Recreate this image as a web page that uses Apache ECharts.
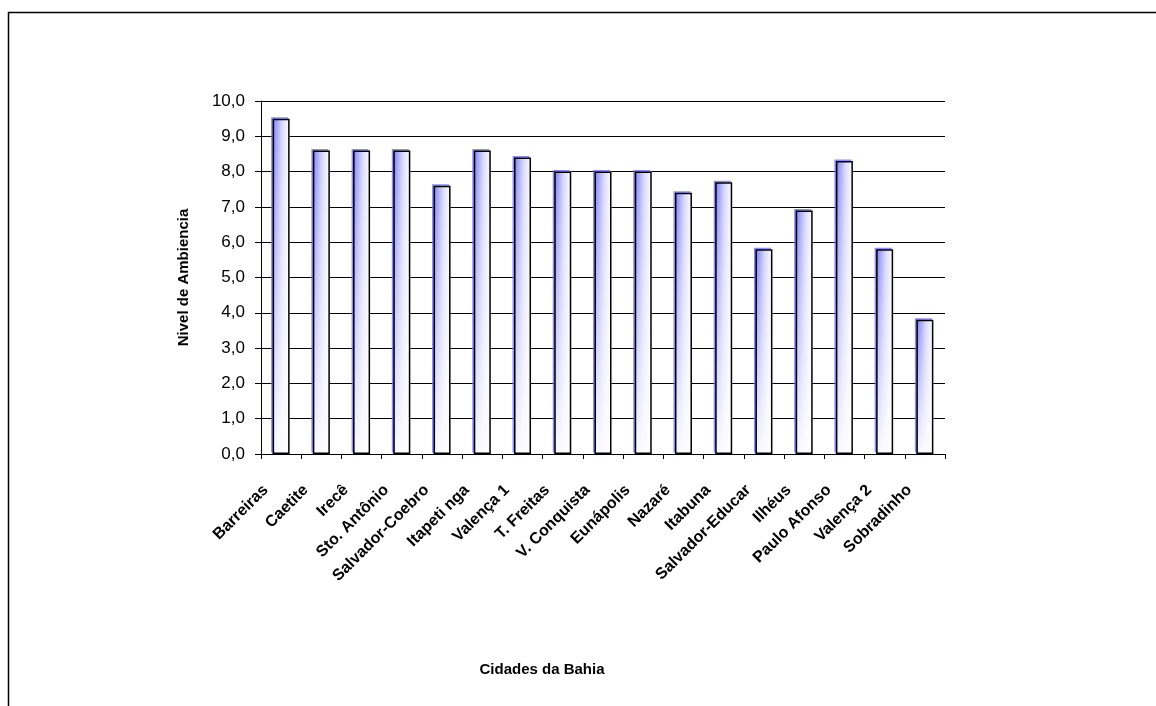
<!DOCTYPE html>
<html>
<head>
<meta charset="utf-8">
<script src="https://cdn.jsdelivr.net/npm/echarts@6/dist/echarts.min.js"></script>
<style>
  html, body { margin: 0; padding: 0; background: #fff; }
  #chart { width: 1156px; height: 706px; }
</style>
</head>
<body>
<div id="chart"></div>
<script>
// Cities and their ambience score
const cities = ['Barreiras', 'Caetite', 'Irecê', 'Sto. Antônio', 'Salvador-Coebro', 'Itapeti nga',
  'Valença 1', 'T. Freitas', 'V. Conquista', 'Eunápolis', 'Nazaré', 'Itabuna',
  'Salvador-Educar', 'Ilhéus', 'Paulo Afonso', 'Valença 2', 'Sobradinho'];
const scores = [9.5, 8.6, 8.6, 8.6, 7.6, 8.6, 8.4, 8.0, 8.0, 8.0, 7.4, 7.7, 5.8, 6.9, 8.3, 5.8, 3.8];
const yTicks = { min: 0, max: 10, interval: 1 };

const font = '"Liberation Sans", Arial, sans-serif';
const chart = echarts.init(document.getElementById('chart'), null, { renderer: 'canvas' });

chart.setOption({
  animation: false,
  backgroundColor: '#ffffff',
  grid: { left: 261, right: 211, top: 101, bottom: 252, containLabel: false },
  graphic: [
    {
      type: 'rect',
      shape: { x: 8.5, y: 12.5, width: 1300, height: 900 },
      style: { fill: 'none', stroke: '#000', lineWidth: 1.5 },
      silent: true
    },
    {
      type: 'text',
      x: 542, y: 662,
      style: {
        text: 'Cidades da Bahia', font: 'bold 15px ' + font,
        fill: '#000', textAlign: 'center', textVerticalAlign: 'top'
      }
    }
  ],
  xAxis: {
    type: 'category',
    data: cities,
    axisLine: { lineStyle: { color: '#000', width: 1 } },
    axisTick: { show: true, alignWithLabel: false, length: 5, lineStyle: { color: '#000' } },
    axisLabel: {
      rotate: 45, interval: 0, margin: 18,
      padding: [0, 22, 0, 0],
      fontFamily: font, fontSize: 16, fontWeight: 'bold', color: '#000'
    },
    splitLine: { show: false }
  },
  yAxis: {
    type: 'value',
    min: yTicks.min, max: yTicks.max, interval: yTicks.interval,
    name: 'Nivel de Ambiencia',
    nameLocation: 'middle', nameGap: 70, nameRotate: 90,
    nameTextStyle: { fontFamily: font, fontSize: 15, fontWeight: 'bold', color: '#000' },
    axisLine: { show: true, lineStyle: { color: '#000', width: 1 } },
    axisTick: { show: true, length: 6, lineStyle: { color: '#000' } },
    axisLabel: {
      margin: 16, fontFamily: font, fontSize: 17, color: '#000',
      formatter: v => v.toFixed(1).replace('.', ',')
    },
    splitLine: { show: true, lineStyle: { color: '#000', width: 1 } }
  },
  series: [
    {
      // blue-to-white shading across each bar, with a thin blue fringe up-left
      type: 'bar',
      data: scores,
      barWidth: 17,
      z: 2,
      itemStyle: {
        color: new echarts.graphic.LinearGradient(0, 0, 1, 0, [
          { offset: 0, color: '#7c7cf6' },
          { offset: 0.55, color: '#d8d8fb' },
          { offset: 1, color: '#ffffff' }
        ]),
        shadowColor: 'rgba(110,110,250,0.8)',
        shadowBlur: 0,
        shadowOffsetX: -1.5,
        shadowOffsetY: -1.5
      }
    },
    {
      // whitening toward the base, with the black outline
      type: 'bar',
      data: scores,
      barWidth: 17,
      barGap: '-100%',
      z: 3,
      itemStyle: {
        color: new echarts.graphic.LinearGradient(0, 0, 0, 1, [
          { offset: 0, color: 'rgba(255,255,255,0)' },
          { offset: 0.35, color: 'rgba(255,255,255,0.35)' },
          { offset: 1, color: 'rgba(255,255,255,0.95)' }
        ]),
        borderColor: '#000',
        borderWidth: 1.5
      }
    }
  ]
});
</script>
</body>
</html>
